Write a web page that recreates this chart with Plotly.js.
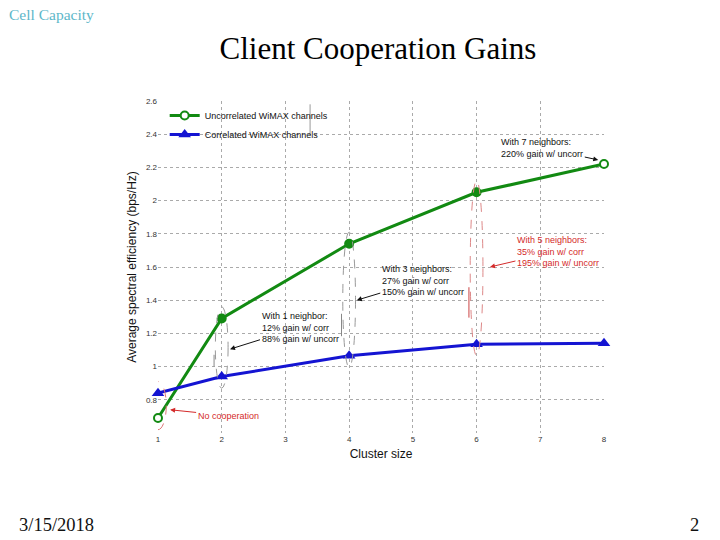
<!DOCTYPE html>
<html>
<head>
<meta charset="utf-8">
<script src="https://cdn.plot.ly/plotly-3.0.1.min.js"></script>
<style>
  html, body { margin: 0; padding: 0; background: #fff; }
  #chart { width: 720px; height: 540px; }
</style>
</head>
<body>
<div id="chart"></div>
<script>
// cluster sizes on the x axis
const clusterSize = [1, 2, 4, 6, 8];
// average spectral efficiency (bps/Hz)
const uncorrelated = [0.69, 1.29, 1.74, 2.05, 2.22];
const correlated = [0.84, 0.94, 1.065, 1.135, 1.14];
const xTicks = [1, 2, 3, 4, 5, 6, 7, 8];
const yTicks = [0.8, 1, 1.2, 1.4, 1.6, 1.8, 2, 2.2, 2.4, 2.6];
const yTickText = ['0.8', '1', '1.2', '1.4', '1.6', '1.8', '2', '2.2', '2.4', '2.6'];

const green = '#128a12';
const blue = '#1414d2';
const red = '#d42a2a';
const sans = 'Liberation Sans, Arial, sans-serif';
const serif = 'Liberation Serif, Times New Roman, serif';

const traces = [
  {
    x: clusterSize, y: uncorrelated,
    name: 'Uncorrelated WiMAX channels',
    mode: 'lines+markers',
    cliponaxis: false,
    line: { color: green, width: 3 },
    marker: {
      symbol: 'circle', size: 8,
      color: uncorrelated.map((v, i) => (i === 0 || i === uncorrelated.length - 1) ? '#ffffff' : green),
      line: { color: green, width: 2 }
    }
  },
  {
    x: clusterSize, y: correlated,
    name: 'Correlated WiMAX channels',
    mode: 'lines+markers',
    cliponaxis: false,
    line: { color: blue, width: 3 },
    marker: { symbol: 'triangle-up', size: 11, color: blue }
  }
];

// dashed ellipses grouping each pair of points
const shapes = [];
const ringColor = ['#d77', '#999', '#999', '#d88'];
[0, 1, 2, 3].forEach(i => {
  const x = clusterSize[i];
  const half = i === 0 ? 0.13 : 0.1;
  shapes.push({
    type: 'circle', xref: 'x', yref: 'y',
    x0: x - half, x1: x + half,
    y0: Math.min(correlated[i], uncorrelated[i]) - 0.07,
    y1: Math.max(correlated[i], uncorrelated[i]) + 0.07,
    line: { color: ringColor[i], width: 1, dash: 'dash' }
  });
  if (i > 0) {
    const mid = (correlated[i] + uncorrelated[i]) / 2;
    shapes.push({
      type: 'line', xref: 'x', yref: 'y',
      x0: x - 0.12, x1: x - 0.12,
      y0: correlated[i] + (mid - correlated[i]) * 0.35,
      y1: correlated[i] + (mid - correlated[i]) * 0.75,
      line: { color: i === 3 ? '#c44' : '#888', width: 1 }
    });
  }
});
// right edge of the legend box
shapes.push({
  type: 'line', xref: 'paper', yref: 'paper',
  x0: 0.341, x1: 0.341, y0: 0.9, y1: 0.99,
  line: { color: '#999', width: 1 }
});

function note(x, y, ax, ay, text, color) {
  return {
    x: x, y: y, xref: 'x', yref: 'y', ax: ax, ay: ay,
    text: text, align: 'left', showarrow: true,
    arrowhead: 2, arrowsize: 1, arrowwidth: 1, arrowcolor: color,
    font: { family: sans, size: 9, color: color }
  };
}

const annotations = [
  note(1.19, 0.74, 58, 6, 'No cooperation', red),
  note(2.13, 1.105, 70, -22, 'With 1 neighbor:<br>12% gain w/ corr<br>88% gain w/ uncorr', '#111'),
  note(4.12, 1.4, 66, -20, 'With 3 neighbors:<br>27% gain w/ corr<br>150% gain w/ uncorr', '#111'),
  note(6.21, 1.6, 68, -16, 'With 5 neighbors:<br>35% gain w/ corr<br>195% gain w/ uncorr', red),
  note(7.91, 2.245, -56, -12, 'With 7 neighbors:<br>220% gain w/ uncorr', '#111'),
  {
    xref: 'paper', yref: 'paper', x: -0.338, y: 1.262, xanchor: 'left', yanchor: 'middle',
    text: 'Cell Capacity', showarrow: false,
    font: { family: serif, size: 15.5, color: '#5db7c9' }
  },
  {
    xref: 'paper', yref: 'paper', x: -0.316, y: -0.277, xanchor: 'left', yanchor: 'middle',
    text: '3/15/2018', showarrow: false,
    font: { family: serif, size: 18.5, color: '#111' }
  },
  {
    xref: 'paper', yref: 'paper', x: 1.217, y: -0.277, xanchor: 'right', yanchor: 'middle',
    text: '2', showarrow: false,
    font: { family: serif, size: 18.5, color: '#111' }
  }
];

const layout = {
  width: 720, height: 540,
  margin: { l: 158, r: 116, t: 101, b: 107 },
  paper_bgcolor: '#fff', plot_bgcolor: '#fff',
  title: {
    text: 'Client Cooperation Gains',
    x: 0.525, xref: 'container', xanchor: 'center',
    y: 0.911, yref: 'container', yanchor: 'middle',
    font: { family: serif, size: 31, color: '#000' }
  },
  xaxis: {
    range: [1, 8], tickvals: xTicks,
    showgrid: true, gridcolor: '#aaa', griddash: 'dot', gridwidth: 1,
    zeroline: false, showline: false, ticks: '',
    tickfont: { family: sans, size: 8, color: '#333' },
    title: { text: 'Cluster size', font: { family: sans, size: 12, color: '#111' }, standoff: 6 }
  },
  yaxis: {
    range: [0.6, 2.6], tickvals: yTicks, ticktext: yTickText,
    showgrid: true, gridcolor: '#aaa', griddash: 'dot', gridwidth: 1,
    zeroline: false, showline: false, ticks: '',
    tickfont: { family: sans, size: 8, color: '#333' },
    title: { text: 'Average spectral efficiency (bps/Hz)', font: { family: sans, size: 12, color: '#111' }, standoff: 6 }
  },
  showlegend: true,
  legend: {
    x: 0.015, y: 1.0, xanchor: 'left', yanchor: 'top',
    bgcolor: 'rgba(255,255,255,0)', borderwidth: 0,
    font: { family: sans, size: 9, color: '#111' },
    itemwidth: 30, tracegroupgap: 0
  },
  shapes: shapes,
  annotations: annotations
};

Plotly.newPlot('chart', traces, layout, { displayModeBar: false, staticPlot: true });
</script>
</body>
</html>
